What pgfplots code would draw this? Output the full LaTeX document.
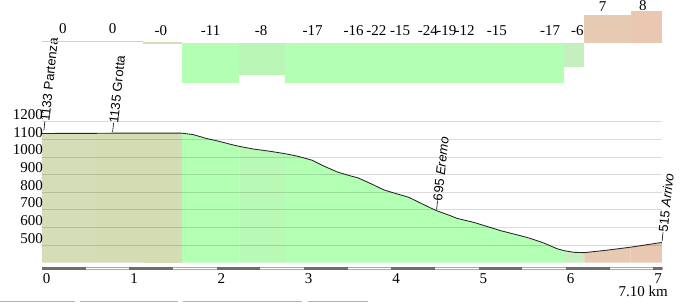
\documentclass[border=0pt]{standalone}
\usepackage{pgfplots}
\pgfplotsset{compat=1.18}
\usepackage{pgfplotstable}
\usepackage{fontspec}
\setmainfont{Liberation Serif}
\newfontfamily\sansf{Liberation Sans}
\newcommand\serfont{\fontsize{15}{15}\selectfont}
\newcommand\sanfont{\sansf\fontsize{13}{13}\selectfont}
\definecolor{olvA}{HTML}{D4DDB5}
\definecolor{olvB}{HTML}{D3DCB3}
\definecolor{olvC}{HTML}{D3DCB3}
\definecolor{olvL}{HTML}{CDD8A6}
\definecolor{grn}{HTML}{B3FFB3}
\definecolor{grnB}{HTML}{B7F9B5}
\definecolor{grnT}{HTML}{B9F5B5}
\definecolor{grnC}{HTML}{C5EFBF}
\definecolor{tanA}{HTML}{E6CAB1}
\definecolor{tanB}{HTML}{E9C7B0}
\definecolor{scaledark}{HTML}{6E6E6E}
\definecolor{scalelight}{HTML}{A8A8A8}

\pgfplotstableread{
km elev
0.00 1133
0.30 1134
0.62 1134
0.81 1135
1.16 1135
1.60 1135
1.73 1127
1.89 1104
2.00 1092
2.19 1068
2.26 1060
2.42 1045
2.60 1033
2.78 1019
2.92 1005
3.09 982
3.22 950
3.38 915
3.53 893
3.62 881
3.79 843
3.91 814
4.02 797
4.20 771
4.37 730
4.47 706
4.52 695
4.67 668
4.75 652
4.95 628
5.25 582
5.55 544
5.59 538
5.74 513
5.90 479
5.98 468
6.09 459
6.21 457
6.47 471
6.74 488
7.10 515
}\profile

\begin{document}
\begin{tikzpicture}
\useasboundingbox (0,0) rectangle (689pt,304pt);

% ---------- elevation profile ----------
\begin{axis}[
  at={(42pt,41.3pt)}, anchor=south west,
  scale only axis, width=620pt, height=141pt,
  xmin=0, xmax=7.10, ymin=400, ymax=1200,
  axis line style={draw=none}, major tick length=0pt,
  xtick={0,1,2,3,4,5,6,7},
  ytick={500,600,700,800,900,1000,1100,1200},
  ymajorgrids, major grid style={black, opacity=0.14, line width=0.8pt},
  axis on top, clip mode=individual,
  /pgf/number format/assume math mode=true,
  /pgf/number format/set thousands separator={},
  tick label style={font=\serfont},
  xticklabel style={anchor=north west, inner sep=0pt, yshift=-10.3pt, xshift=0.8pt},
  yticklabel style={anchor=base east, inner sep=0pt, xshift=1pt, yshift=2pt},
]
\addplot[fill=olvA, draw=none, restrict x to domain=-0.01:0.621] table[x=km,y=elev] {\profile} \closedcycle;
\addplot[fill=olvB, draw=none, restrict x to domain=0.619:1.161] table[x=km,y=elev] {\profile} \closedcycle;
\addplot[fill=olvC, draw=none, restrict x to domain=1.159:1.601] table[x=km,y=elev] {\profile} \closedcycle;
\addplot[fill=grn, draw=none, restrict x to domain=1.599:2.261] table[x=km,y=elev] {\profile} \closedcycle;
\addplot[fill=grnB, draw=none, restrict x to domain=2.259:2.781] table[x=km,y=elev] {\profile} \closedcycle;
\addplot[fill=grn, draw=none, restrict x to domain=2.779:5.981] table[x=km,y=elev] {\profile} \closedcycle;
\addplot[fill=grnC, draw=none, restrict x to domain=5.979:6.211] table[x=km,y=elev] {\profile} \closedcycle;
\addplot[fill=tanA, draw=none, restrict x to domain=6.209:6.741] table[x=km,y=elev] {\profile} \closedcycle;
\addplot[fill=tanB, draw=none, restrict x to domain=6.739:7.11] table[x=km,y=elev] {\profile} \closedcycle;
\addplot[draw=black!85, line width=0.85pt] table[x=km,y=elev] {\profile};

% scale bar
\draw[scalelight, line width=0.8pt] ([yshift=-4.3pt]axis cs:0,400) rectangle ([yshift=-7.0pt]axis cs:7.10,400);
\fill[scaledark] ([yshift=-4.0pt]axis cs:0,400) rectangle ([yshift=-7.3pt]axis cs:0.5,400);
\fill[scaledark] ([yshift=-4.0pt]axis cs:1,400) rectangle ([yshift=-7.3pt]axis cs:1.5,400);
\fill[scaledark] ([yshift=-4.0pt]axis cs:2,400) rectangle ([yshift=-7.3pt]axis cs:2.5,400);
\fill[scaledark] ([yshift=-4.0pt]axis cs:3,400) rectangle ([yshift=-7.3pt]axis cs:3.5,400);
\fill[scaledark] ([yshift=-4.0pt]axis cs:4,400) rectangle ([yshift=-7.3pt]axis cs:4.5,400);
\fill[scaledark] ([yshift=-4.0pt]axis cs:5,400) rectangle ([yshift=-7.3pt]axis cs:5.5,400);
\fill[scaledark] ([yshift=-4.0pt]axis cs:6,400) rectangle ([yshift=-7.3pt]axis cs:6.5,400);
\fill[scaledark] ([yshift=-4.0pt]axis cs:7,400) rectangle ([yshift=-7.3pt]axis cs:7.10,400);

% waypoints
\node[rotate=84, anchor=west, inner sep=0pt, font=\sanfont] at ([xshift=2pt,yshift=3pt]axis cs:0,1133) {\rule[0.33em]{9pt}{0.6pt}1133 Partenza};
\node[rotate=84, anchor=west, inner sep=0pt, font=\sanfont] at ([yshift=1pt]axis cs:0.81,1135) {\rule[0.33em]{9pt}{0.6pt}1135 Grotta};
\node[rotate=84, anchor=west, inner sep=0pt, font=\sanfont] at ([yshift=1pt]axis cs:4.52,695) {\rule[0.33em]{9pt}{0.6pt}695 \textit{Eremo}};
\node[rotate=84, anchor=west, inner sep=0pt, font=\sanfont] at ([yshift=1pt]axis cs:7.10,515) {\rule[0.33em]{9pt}{0.6pt}515 \textit{Arrivo}};
\end{axis}

% ---------- gradient bars ----------
\begin{axis}[
  at={(42pt,221.3pt)}, anchor=south west,
  scale only axis, width=620pt, height=80pt,
  xmin=0, xmax=7.10, ymin=-10, ymax=10,
  hide axis, clip mode=individual,
]
\addplot[draw=olvL, line width=1.5pt] coordinates {(0,0.25) (0.62,0.25)};
\addplot[draw=olvL, line width=1.5pt] coordinates {(0.62,0.25) (1.16,0.25)};
\addplot[draw=olvA, line width=1.5pt] coordinates {(1.16,-0.1) (1.60,-0.1)};
\addplot[fill=grn, draw=none] coordinates {(1.60,0) (1.60,-11) (2.26,-11) (2.26,0)} -- cycle;
\addplot[fill=grnT, draw=none] coordinates {(2.26,0) (2.26,-8) (2.78,-8) (2.78,0)} -- cycle;
\addplot[fill=grn, draw=none] coordinates {(2.78,0) (2.78,-17) (3.38,-17) (3.38,0)} -- cycle;
\addplot[fill=grn, draw=none] coordinates {(3.38,0) (3.38,-16) (3.62,-16) (3.62,0)} -- cycle;
\addplot[fill=grn, draw=none] coordinates {(3.62,0) (3.62,-22) (3.91,-22) (3.91,0)} -- cycle;
\addplot[fill=grn, draw=none] coordinates {(3.91,0) (3.91,-15) (4.20,-15) (4.20,0)} -- cycle;
\addplot[fill=grn, draw=none] coordinates {(4.20,0) (4.20,-24) (4.47,-24) (4.47,0)} -- cycle;
\addplot[fill=grn, draw=none] coordinates {(4.47,0) (4.47,-19) (4.67,-19) (4.67,0)} -- cycle;
\addplot[fill=grn, draw=none] coordinates {(4.67,0) (4.67,-12) (4.95,-12) (4.95,0)} -- cycle;
\addplot[fill=grn, draw=none] coordinates {(4.95,0) (4.95,-15) (5.59,-15) (5.59,0)} -- cycle;
\addplot[fill=grn, draw=none] coordinates {(5.59,0) (5.59,-17) (5.98,-17) (5.98,0)} -- cycle;
\addplot[fill=grnC, draw=none] coordinates {(5.98,0) (5.98,-6) (6.21,-6) (6.21,0)} -- cycle;
\addplot[fill=tanA, draw=none] coordinates {(6.21,0) (6.21,7) (6.74,7) (6.74,0)} -- cycle;
\addplot[fill=tanB, draw=none] coordinates {(6.74,0) (6.74,8) (7.10,8) (7.10,0)} -- cycle;

\begin{scope}[every node/.style={anchor=base, inner sep=0pt, font=\serfont}]
\node at (axis cs:0.24,2.4) {0};
\node at (axis cs:0.81,2.4) {0};
\node at (axis cs:1.36,1.9) {-0};
\node at (axis cs:1.93,1.9) {-11};
\node at (axis cs:2.51,1.9) {-8};
\node at (axis cs:3.10,1.9) {-17};
\node at (axis cs:3.57,1.9) {-16};
\node at (axis cs:3.83,1.9) {-22};
\node at (axis cs:4.10,1.9) {-15};
\node at (axis cs:4.42,1.9) {-24};
\node at (axis cs:4.63,1.9) {-19};
\node at (axis cs:4.84,1.9) {-12};
\node at (axis cs:5.21,1.9) {-15};
\node at (axis cs:5.82,1.9) {-17};
\node at (axis cs:6.13,1.9) {-6};
\node at (axis cs:6.42,7.75) {7};
\node at (axis cs:6.88,7.95) {8};
\end{scope}
\end{axis}

\node[anchor=base east, inner sep=0pt, font=\serfont] at (668pt,7.3pt) {7.10 km};
\draw[black!30, line width=0.8pt] (0pt,2.3pt) -- (75pt,2.3pt);
\draw[black!30, line width=0.8pt] (80pt,2.3pt) -- (178pt,2.3pt);
\draw[black!30, line width=0.8pt] (183pt,2.3pt) -- (302pt,2.3pt);
\draw[black!30, line width=0.8pt] (308pt,2.3pt) -- (368pt,2.3pt);
\end{tikzpicture}
\end{document}
